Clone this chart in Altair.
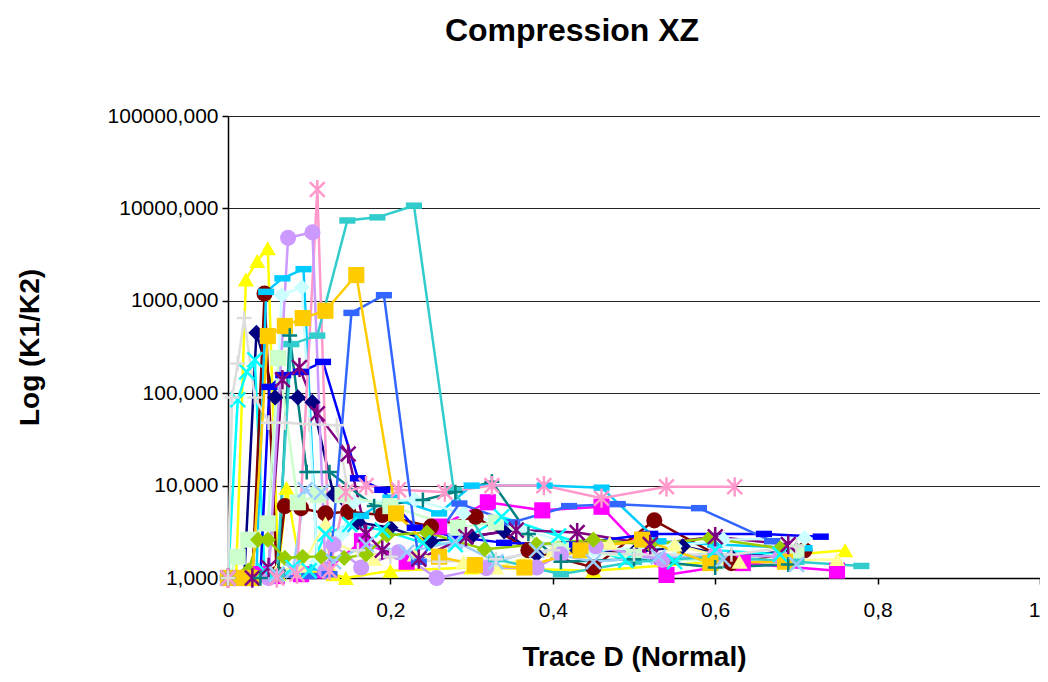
import altair as alt
import pandas as pd

names = ["S1", "S2", "S3", "S4", "S5", "S6", "S7", "S8", "S9", "S10",
         "S11", "S12", "S13", "S14", "S15", "S16", "S17", "S18", "S19", "S20"]
colors = ["#000080", "#FF00FF", "#FFFF00", "#00FFFF", "#800080", "#800000", "#008080", "#0000FF",
          "#00CCFF", "#CCFFFF", "#CCFFCC", "#FFFF99", "#99CCFF", "#FF99CC", "#CC99FF", "#DDDDDD",
          "#3366FF", "#33CCCC", "#99CC00", "#FFCC00"]
markers = ["diamond", "square", "triangle", "x", "star", "circle", "plus", "dash", "dash", "diamond",
           "square", "triangle", "x", "star", "circle", "plus", "dash", "dash", "diamond", "square"]

xs = [
    [0, 0.02, 0.035, 0.058, 0.086, 0.104, 0.13, 0.16, 0.2, 0.25, 0.3, 0.34, 0.38, 0.43, 0.5, 0.56, 0.62, 0.7],
    [0, 0.02, 0.04, 0.06, 0.09, 0.12, 0.165, 0.22, 0.26, 0.32, 0.387, 0.46, 0.54, 0.634, 0.75],
    [0, 0.01, 0.022, 0.036, 0.049, 0.062, 0.072, 0.09, 0.13, 0.145, 0.2, 0.3, 0.45, 0.6, 0.76],
    [0, 0.012, 0.023, 0.033, 0.045, 0.06, 0.08, 0.1, 0.12, 0.15, 0.19, 0.24, 0.28, 0.337, 0.407, 0.49, 0.55, 0.6, 0.68],
    [0, 0.03, 0.05, 0.067, 0.088, 0.11, 0.148, 0.17, 0.19, 0.235, 0.293, 0.355, 0.43, 0.52, 0.6, 0.69],
    [0, 0.03, 0.045, 0.06, 0.07, 0.09, 0.12, 0.148, 0.19, 0.25, 0.305, 0.37, 0.45, 0.525, 0.62, 0.71],
    [0, 0.04, 0.062, 0.076, 0.097, 0.125, 0.18, 0.24, 0.28, 0.325, 0.37, 0.41, 0.5, 0.6, 0.69],
    [0, 0.04, 0.051, 0.068, 0.09, 0.117, 0.16, 0.19, 0.23, 0.28, 0.34, 0.42, 0.52, 0.66, 0.73],
    [0, 0.035, 0.047, 0.067, 0.093, 0.11, 0.164, 0.2, 0.26, 0.3, 0.39, 0.46, 0.53, 0.6, 0.71],
    [0, 0.05, 0.066, 0.091, 0.11, 0.14, 0.155, 0.23, 0.29, 0.36, 0.45, 0.55, 0.61, 0.71],
    [0, 0.012, 0.025, 0.049, 0.062, 0.086, 0.111, 0.141, 0.2, 0.283, 0.33, 0.41, 0.5, 0.6, 0.7],
    [0, 0.03, 0.06, 0.09, 0.12, 0.13, 0.18, 0.23, 0.29, 0.33, 0.4, 0.47, 0.55, 0.63, 0.75],
    [0, 0.06, 0.08, 0.095, 0.115, 0.13, 0.17, 0.22, 0.28, 0.33, 0.38, 0.45, 0.53, 0.61, 0.7],
    [0, 0.06, 0.085, 0.11, 0.125, 0.145, 0.17, 0.21, 0.267, 0.325, 0.389, 0.46, 0.54, 0.624],
    [0, 0.05, 0.074, 0.104, 0.12, 0.13, 0.164, 0.21, 0.257, 0.318, 0.38, 0.41, 0.453, 0.535, 0.6, 0.68],
    [0, 0.005, 0.012, 0.02, 0.033, 0.05, 0.07, 0.1, 0.134, 0.16, 0.2, 0.26, 0.33, 0.4, 0.5, 0.62, 0.7],
    [0, 0.1, 0.125, 0.152, 0.192, 0.235, 0.285, 0.35, 0.42, 0.48, 0.58, 0.67],
    [0, 0.06, 0.078, 0.11, 0.147, 0.184, 0.229, 0.278, 0.33, 0.41, 0.5, 0.6, 0.7, 0.78],
    [0.025, 0.037, 0.049, 0.07, 0.092, 0.115, 0.143, 0.17, 0.196, 0.245, 0.316, 0.38, 0.45, 0.52, 0.593, 0.68],
    [0, 0.015, 0.03, 0.049, 0.07, 0.092, 0.12, 0.158, 0.207, 0.26, 0.304, 0.365, 0.434, 0.51, 0.594, 0.686],
]
ys = [
    [1, 1, 450, 90, 90, 80, 8, 4, 3.5, 2.5, 2.8, 3.2, 1.8, 2.0, 1.9, 2.2, 1.7, 2.0],
    [1, 1, 1.1, 1.05, 1.1, 1.2, 2.5, 1.5, 3.6, 6.6, 5.4, 5.9, 1.08, 1.45, 1.2],
    [1, 1, 1700, 2700, 3700, 1.1, 9.4, 1.2, 1.1, 1.0, 1.2, 1.3, 1.2, 1.5, 2.0],
    [1, 85, 170, 230, 1.2, 1.1, 1.3, 1.2, 3.0, 3.8, 3.3, 2.4, 2.3, 4.6, 2.85, 1.55, 1.5, 2.0, 1.8],
    [1, 1, 1.3, 140, 190, 60, 22, 3, 2.0, 1.6, 2.8, 3.3, 3.1, 2.3, 2.8, 2.3],
    [1, 1, 1200, 1.1, 6, 5.7, 5, 5.2, 4.8, 3.6, 4.6, 2, 1.3, 4.2, 1.45, 2.0],
    [1, 1, 1.2, 420, 14, 14, 6, 7, 8.5, 11, 3, 1.5, 1.6, 1.3, 1.4],
    [1, 1.1, 117, 157, 170, 218, 12, 9, 3.5, 2.8, 2.4, 2.3, 3, 3, 2.8],
    [1, 1.1, 1250, 1750, 2200, 1.3, 4.7, 7.4, 5, 10, 10, 9.5, 2.5, 2.3, 2.1],
    [1, 1, 1150, 1400, 1.5, 3, 6.6, 7, 5, 3.4, 2.0, 2.2, 2.6, 2.7],
    [1, 1.7, 2.6, 3.9, 240, 6.6, 7.9, 7.9, 6.0, 3.5, 4.0, 2.0, 1.7, 1.5, 1.9],
    [1, 1.1, 1.2, 1.3, 3.9, 2.4, 1.6, 1.8, 1.5, 1.3, 2.0, 2.4, 2.3, 1.5, 1.6],
    [1, 1.1, 1.2, 9, 8.5, 1.5, 2.3, 1.9, 2.5, 1.5, 2.0, 1.5, 1.7, 1.6, 1.4],
    [1, 1, 1.1, 16000, 1.2, 8.5, 10, 9, 8.5, 10, 10, 7.3, 9.7, 9.7],
    [1, 1, 4800, 5500, 1.2, 2.3, 1.3, 1.9, 1.0, 1.28, 1.3, 1.8, 2.2, 1.57, 1.8, 1.7],
    [1, 90, 210, 650, 90, 48, 48, 46, 45, 2, 1.7, 1.5, 1.6, 2.0, 1.8, 1.8, 2.2],
    [1, 1.05, 1.1, 740, 1150, 1.5, 6.4, 4.0, 6.0, 6.3, 5.7, 2.5],
    [1, 1.1, 340, 420, 7400, 8000, 10700, 9, 1.6, 1.1, 1.5, 1.7, 1.5, 1.35],
    [1.2, 2.6, 2.6, 1.65, 1.7, 1.7, 1.65, 1.8, 2.9, 3.1, 2.05, 2.3, 2.6, 2.3, 2.7, 2.1],
    [1, 1, 1, 415, 535, 650, 780, 1900, 5, 1.7, 1.38, 1.3, 2.0, 2.6, 1.45, 1.5],
]

x_ticks = [0, 0.2, 0.4, 0.6, 0.8, 1]
y_ticks = [1, 10, 100, 1000, 10000, 100000]

shape_paths = {
    "diamond": "diamond",
    "square": "square",
    "triangle": "triangle-up",
    "circle": "circle",
    "x": "M-1,-1L1,1M-1,1L1,-1",
    "star": "M-1,-1L1,1M-1,1L1,-1M0,-1.3L0,1.3",
    "plus": "M-1,0L1,0M0,-1L0,1",
    "dash": "M-1,-0.4L1,-0.4L1,0.4L-1,0.4Z",
}
stroked_kinds = {"x", "star", "plus"}

rows = []
for si, (nm, xv, yv) in enumerate(zip(names, xs, ys)):
    for pi, (a, b) in enumerate(zip(xv, yv)):
        rows.append({"s": nm, "si": si, "pi": pi, "x": a, "y": b,
                     "stroked": markers[si] in stroked_kinds})
df = pd.DataFrame(rows)

FONT = "Liberation Sans"
color_scale = alt.Scale(domain=names, range=colors)
shape_scale = alt.Scale(domain=names, range=[shape_paths[m] for m in markers])

xenc = alt.X("x:Q", scale=alt.Scale(domain=[0, 1], nice=False),
             axis=alt.Axis(values=x_ticks,
                           labelExpr="replace(toString(datum.value), '.', ',')",
                           labelAlign={"condition": {"test": "datum.value == 1", "value": "right"}, "value": "center"},
                           title="Trace D (Normal)", grid=False,
                           domainColor="#000000", domainWidth=1.5,
                           tickColor="#000000", tickSize=6, tickWidth=1.5,
                           labelFont=FONT, labelFontSize=21, labelColor="#000000",
                           labelPadding=15,
                           titleFont=FONT, titleFontSize=28, titleFontWeight="bold",
                           titleColor="#000000", titleX=406, titleY=79,
                           titleBaseline="middle", titleAlign="center"))
yenc = alt.Y("y:Q", scale=alt.Scale(type="log", domain=[1, 100000], nice=False),
             axis=alt.Axis(values=y_ticks,
                           labelExpr="replace(format(datum.value, '.3f'), '.', ',')",
                           title="Log (K1/K2)", grid=True, gridColor="#222222", gridWidth=1,
                           domainColor="#000000", domainWidth=1.5,
                           tickColor="#000000", tickSize=6, tickWidth=1.5,
                           labelFont=FONT, labelFontSize=21, labelColor="#000000",
                           labelPadding=4,
                           titleFont=FONT, titleFontSize=28, titleFontWeight="bold",
                           titleColor="#000000", titleX=-198, titleY=231,
                           titleAngle=270, titleBaseline="middle", titleAlign="center"))

base = alt.Chart(df)
lines = base.mark_line(strokeWidth=2.5).encode(
    x=xenc, y=yenc,
    color=alt.Color("s:N", scale=color_scale, legend=None),
    detail="s:N",
    order="pi:Q",
)
filled_pts = base.transform_filter("!datum.stroked").mark_point(filled=True, size=260, opacity=1).encode(
    x=xenc, y=yenc,
    color=alt.Color("s:N", scale=color_scale, legend=None),
    shape=alt.Shape("s:N", scale=shape_scale, legend=None),
)
stroked_pts = base.transform_filter("datum.stroked").mark_point(filled=False, size=220, strokeWidth=2.5, opacity=1).encode(
    x=xenc, y=yenc,
    color=alt.Color("s:N", scale=color_scale, legend=None),
    shape=alt.Shape("s:N", scale=shape_scale, legend=None),
)

chart = alt.layer(lines, filled_pts, stroked_pts).properties(
    width=812, height=462,
    title=alt.TitleParams("Compression XZ", font=FONT, fontSize=32, fontWeight="bold",
                          color="#000000", anchor="middle", dx=-62, offset=57),
    autosize=alt.AutoSizeParams(type="none"),
    padding={"left": 220, "top": 108, "right": 0, "bottom": 96},
).configure_view(stroke="#808080", strokeWidth=2).configure(background="#FFFFFF")

chart.save("out.html", embed_options={"renderer": "svg", "actions": False})
